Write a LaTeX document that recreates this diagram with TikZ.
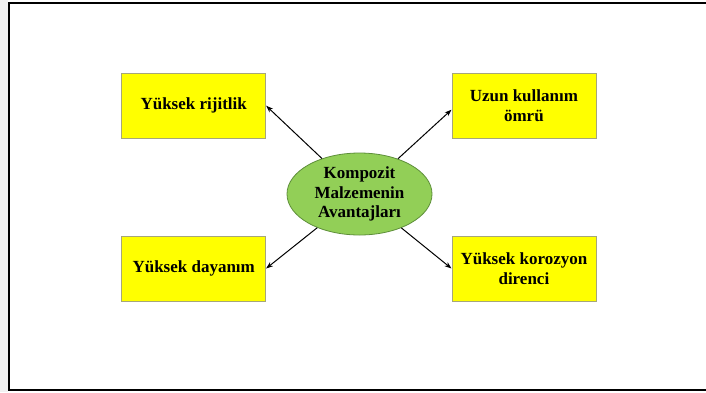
\documentclass[tikz,border=0pt]{standalone}
\usepackage{fontspec}
\setmainfont{Liberation Serif}
\usetikzlibrary{shapes.geometric,arrows.meta}
\definecolor{boxfill}{HTML}{FFFF00}
\definecolor{boxline}{HTML}{A6A67A}
\definecolor{ovalfill}{HTML}{92CF57}
\definecolor{ovalline}{HTML}{5E8F3A}
\definecolor{margin}{HTML}{F1F1F1}
\tikzset{
  benefit/.style={rectangle, draw=boxline, line width=0.8pt, fill=boxfill,
    minimum width=144pt, minimum height=65pt, inner sep=2pt,
    align=center, font=\fontsize{17}{19.5}\selectfont\bfseries},
  core/.style={ellipse, draw=ovalline, line width=0.8pt, fill=ovalfill,
    minimum width=145pt, minimum height=82pt, inner sep=0pt,
    align=center, font=\fontsize{17}{19.5}\selectfont\bfseries},
  link/.style={draw=black, line width=1pt,
    -{Stealth[length=7pt,width=5pt]}}
}
\begin{document}
\begin{tikzpicture}[x=1pt,y=-1pt]
  \useasboundingbox (0,0) rectangle (706,392);
  % pale strip outside the frame
  \fill[margin] (0,0) rectangle (8,392);
  \fill[white] (8,0) rectangle (706,392);
  % open frame (no right side)
  \draw[line width=1.8pt] (706,3) -- (9,3) -- (9,390) -- (706,390);

  \node[core] (c) at (359.5,194) {Kompozit\\Malzemenin\\Avantajları};

  \node[benefit] (tl) at (193.7,105.7) {Yüksek rijitlik};
  \node[benefit] (tr) at (523.9,105.7) {Uzun kullanım\\ömrü};
  \node[benefit] (bl) at (193.7,268.5) {Yüksek dayanım};
  \node[benefit] (br) at (523.9,268.5) {Yüksek korozyon\\direnci};

  \draw[link] (c) -- (tl.east);
  \draw[link] (c) -- ([yshift=-4pt]tr.west);
  \draw[link] (c) -- (bl.east);
  \draw[link] (c) -- (br.west);
\end{tikzpicture}
\end{document}
